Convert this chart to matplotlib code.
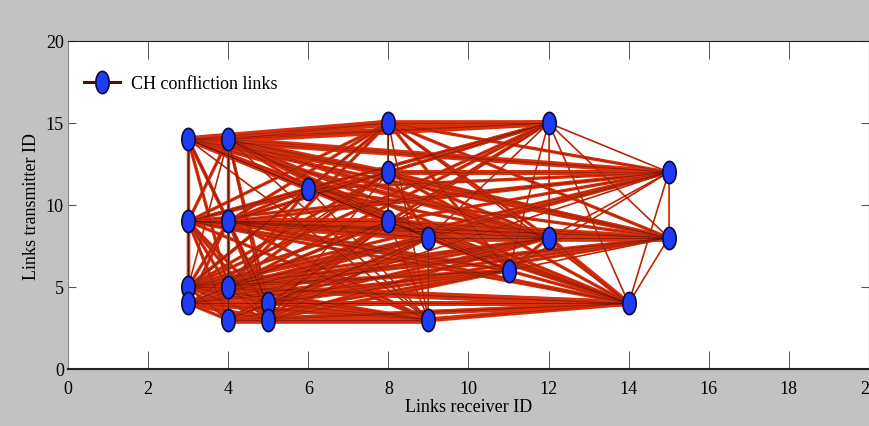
import matplotlib
matplotlib.use("Agg")
import matplotlib.pyplot as plt
import numpy as np
from matplotlib.path import Path

plt.rcParams['font.family'] = ['Liberation Serif', 'DejaVu Serif']

# Node coordinates (receiver ID, transmitter ID)
node_x = [3, 4, 8, 12, 15, 8, 6, 3, 4, 8, 9, 12, 15, 11, 3, 4, 3, 5, 14, 4, 5, 9]
node_y = [14, 14, 15, 15, 12, 12, 11, 9, 9, 9, 8, 8, 8, 6, 5, 5, 4, 4, 4, 3, 3, 3]

# Conflict links (node index pairs) and their drawn weights
edges = [
    (0, 1), (0, 2), (0, 3), (1, 2), (1, 3), (2, 3), (0, 4), (1, 4), (0, 5), (1, 5),
    (0, 6), (1, 6), (0, 7), (1, 8), (0, 8), (1, 7), (0, 9), (1, 9), (0, 10), (1, 10),
    (0, 11), (1, 11), (0, 12), (1, 12), (0, 13), (1, 13), (0, 14), (0, 15), (0, 17),
    (1, 14), (1, 15), (1, 17), (0, 18), (1, 18), (1, 20), (0, 21), (1, 21), (0, 16), (1, 19),
    (2, 4), (2, 5), (2, 6), (2, 7), (2, 8), (2, 11), (2, 12), (2, 13), (2, 14), (2, 15),
    (2, 18), (2, 21), (2, 9),
    (3, 4), (3, 12), (3, 18), (3, 11), (3, 5), (3, 6), (3, 7), (3, 8), (3, 9), (3, 10),
    (3, 14), (3, 15), (3, 17), (3, 13),
    (4, 12), (4, 18), (4, 5), (4, 6), (4, 7), (4, 8), (4, 9), (4, 10), (4, 11), (4, 14),
    (4, 15), (4, 17), (4, 13),
    (5, 9), (5, 7), (5, 8), (5, 11), (5, 12), (5, 14), (5, 15), (5, 18), (5, 10), (5, 16), (5, 20),
    (6, 7), (6, 8), (6, 11), (6, 12), (6, 14), (6, 15), (6, 18), (6, 21), (6, 9),
    (7, 8), (7, 9), (7, 10), (7, 11), (7, 12), (7, 14), (7, 15), (7, 17), (7, 16), (7, 19),
    (7, 20), (7, 18), (7, 21), (7, 13),
    (8, 9), (8, 10), (8, 11), (8, 12), (8, 14), (8, 15), (8, 16), (8, 17), (8, 18), (8, 19),
    (8, 20), (8, 21), (8, 13),
    (9, 10), (9, 11), (9, 12), (9, 14), (9, 15), (9, 16), (9, 17), (9, 18), (9, 19), (9, 20),
    (9, 21), (9, 13),
    (10, 11), (10, 12), (10, 14), (10, 15), (10, 16), (10, 17), (10, 18), (10, 19), (10, 20),
    (10, 21), (10, 13),
    (11, 12), (11, 18), (11, 14), (11, 15), (11, 16), (11, 17), (11, 13), (11, 20),
    (12, 18), (12, 14), (12, 15), (12, 16), (12, 17), (12, 13),
    (13, 14), (13, 15), (13, 16), (13, 17), (13, 18), (13, 19), (13, 20),
    (14, 15), (14, 16), (14, 17), (14, 18), (14, 19), (14, 20), (14, 21),
    (15, 16), (15, 17), (15, 18), (15, 19), (15, 20), (15, 21),
    (16, 17), (16, 18), (16, 19), (16, 20), (16, 21),
    (17, 18), (17, 19), (17, 20), (17, 21),
    (18, 19), (18, 20), (18, 21),
    (19, 20), (19, 21),
    (20, 21),
]
edge_w = [
    4, 4, 3, 4, 4, 4, 3, 3, 3, 3,
    2, 2, 1, 1, 2, 2, 3, 3, 3, 2,
    3, 3, 2, 3, 2, 2, 2, 2, 2,
    1, 2, 2, 2, 2, 1, 1, 1, 1, 1,
    2, 1, 1, 2, 2, 2, 2, 2, 2, 2,
    1, 1, 1,
    1, 1, 1, 1, 2, 2, 2, 2, 2, 1,
    2, 2, 1, 1,
    1, 1, 3, 2, 2, 2, 2, 2, 1, 2,
    2, 1, 1,
    1, 2, 2, 2, 2, 2, 2, 2, 2, 1, 1,
    2, 2, 2, 2, 2, 2, 2, 1, 2,
    4, 4, 4, 3, 3, 1, 2, 2, 2, 2,
    2, 2, 2, 2,
    4, 3, 3, 3, 2, 1, 2, 2, 2, 1,
    2, 2, 2,
    3, 3, 3, 2, 2, 2, 2, 2, 2, 2,
    1, 2,
    4, 3, 3, 3, 2, 2, 2, 2, 2,
    1, 2,
    4, 3, 2, 2, 2, 2, 2, 2,
    1, 2, 2, 2, 2, 1,
    2, 2, 2, 2, 2, 2, 2,
    4, 2, 3, 4, 2, 2, 2,
    2, 3, 4, 1, 2, 2,
    4, 3, 2, 3, 3,
    3, 2, 2, 2,
    2, 3, 3,
    4, 3,
    4,
]

x_ticks = [0, 2, 4, 6, 8, 10, 12, 14, 16, 18, 20]
y_ticks = [0, 5, 10, 15, 20]

fig = plt.figure(figsize=(8.7, 4.27), dpi=100, facecolor='#c2c2c2')
ax = fig.add_axes([68 / 870, 57 / 427, 801 / 870, 328 / 427])
ax.set_facecolor('white')

for (i, j), w in zip(edges, edge_w):
    ax.plot([node_x[i], node_x[j]], [node_y[i], node_y[j]], color='#d8300c',
            lw=w * 1.2, solid_capstyle='butt', zorder=2)
for (i, j), w in zip(edges, edge_w):
    ax.plot([node_x[i], node_x[j]], [node_y[i], node_y[j]], color='#2a0500',
            lw=0.5, alpha=0.35, zorder=3)

t = np.linspace(0, 2 * np.pi, 60)
ell = Path(np.column_stack([0.6 * np.cos(t), np.sin(t)]))

ax.plot(node_x, node_y, linestyle='none', marker=ell, markersize=16,
        markerfacecolor='#1e3cf5', markeredgecolor='#0a0a3a', markeredgewidth=1.2,
        zorder=5)

handle, = ax.plot([], [], color='#4a1008', lw=2.2, marker=ell, markersize=16,
                  markerfacecolor='#1e3cf5', markeredgecolor='#0a0a3a',
                  markeredgewidth=1.2)
ax.legend([handle], ['CH confliction links'], loc='upper left', frameon=False,
          fontsize=13, bbox_to_anchor=(0.0, 0.945), handlelength=2.0,
          handletextpad=0.6)

ax.set_xlim(0, 20)
ax.set_ylim(0, 20)
ax.set_xticks(x_ticks)
ax.set_yticks(y_ticks)
ax.tick_params(axis='x', direction='in', length=13, width=0.7, color='#555555',
               top=True, labelsize=13, pad=8)
ax.tick_params(axis='y', direction='in', length=6, width=0.8, color='#555555',
               right=True, labelsize=13, pad=3)
for s in ['top', 'right', 'bottom']:
    ax.spines[s].set_color('#222222')
ax.spines['bottom'].set_linewidth(1.5)
ax.spines['left'].set_color('#888888')

ax.set_xlabel('Links receiver ID', fontsize=13, labelpad=1)
ax.set_ylabel('Links transmitter ID', fontsize=13, labelpad=4)

fig.savefig('out.png', dpi=100, facecolor=fig.get_facecolor())
